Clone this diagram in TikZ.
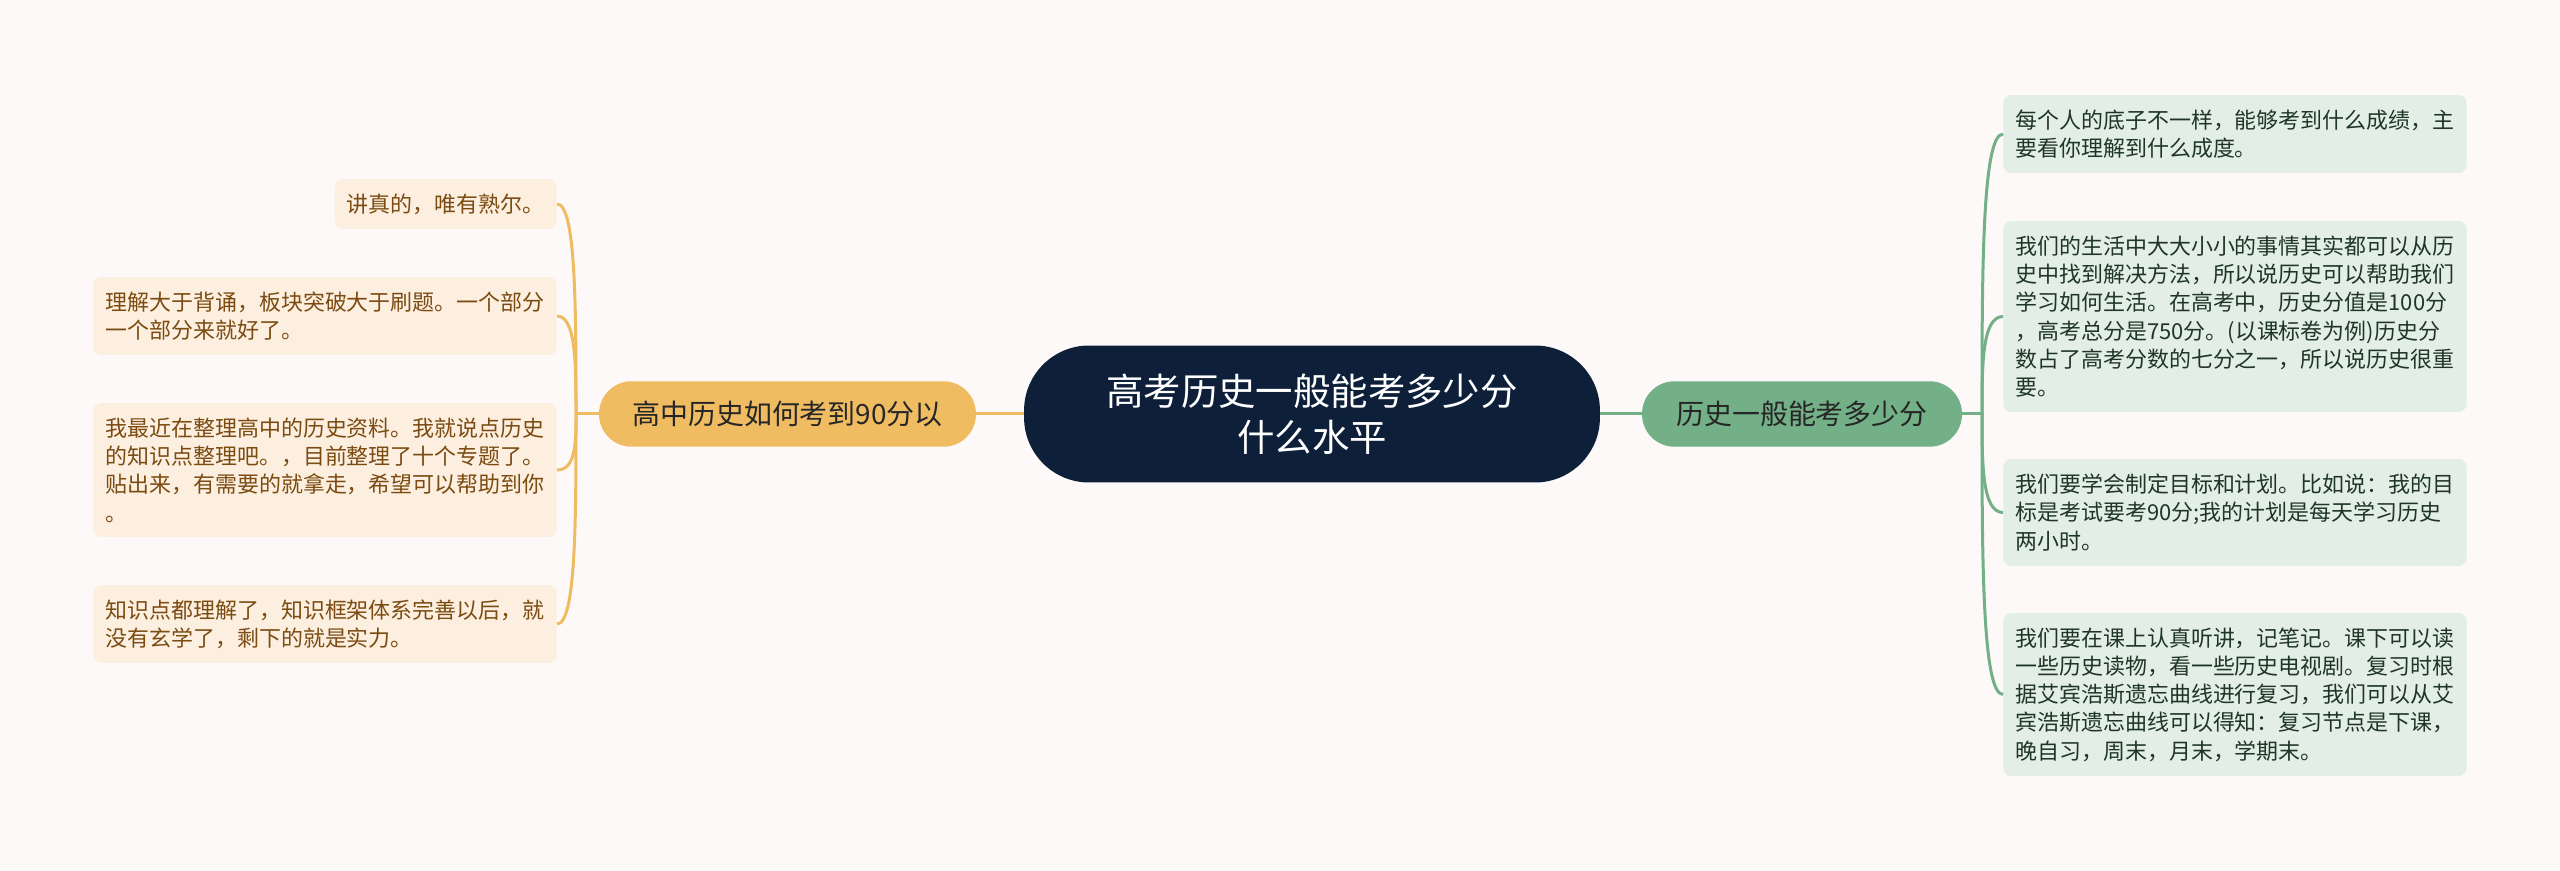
\documentclass[tikz,border=0pt]{standalone}
\usepackage{fontspec}
\setmainfont{Noto Sans CJK SC}
\usetikzlibrary{calc}

\definecolor{pagebg}{HTML}{FCF9F8}
\definecolor{rootfill}{HTML}{0E1F3A}
\definecolor{goldfill}{HTML}{F0BC62}
\definecolor{goldleaf}{HTML}{FCEFDF}
\definecolor{goldtext}{HTML}{7B4B12}
\definecolor{sagefill}{HTML}{73B087}
\definecolor{sageleaf}{HTML}{E3EEE6}
\definecolor{sagetext}{HTML}{1F3627}

\begin{document}
\begin{tikzpicture}[x=0.02cm, y=-0.02cm,
  rootnode/.style={fill=rootfill, text=white, rounded corners=1.3cm, align=center,
    minimum width=11.52cm, minimum height=2.74cm, font=\fontsize{21.3}{26}\selectfont},
  branch/.style={rounded corners=0.65cm, minimum height=1.31cm, text=black!85,
    font=\fontsize{15.9}{19}\selectfont},
  leaf/.style={rounded corners=0.16cm, align=left, inner xsep=0.24cm, inner ysep=0.1cm,
    font=\fontsize{12.5}{16.1}\selectfont},
  leafL/.style={leaf, fill=goldleaf, text=goldtext, anchor=east},
  leafR/.style={leaf, fill=sageleaf, text=sagetext, anchor=west},
  linkL/.style={draw=goldfill, line width=0.06cm},
  linkR/.style={draw=sagefill, line width=0.06cm}]
  % page
  \fill[pagebg] (0,0) rectangle (2560,871);

  % centre and the two branches
  \node[rootnode] (root) at (1312,414) {高考历史一般能考多少分\\什么水平};
  \node[branch, fill=goldfill, minimum width=7.54cm] (howto) at (787.5,414) {高中历史如何考到90分以};
  \node[branch, fill=sagefill, minimum width=6.4cm] (score) at (1802,414) {历史一般能考多少分};

  % left leaves
  \node[leafL, minimum height=1.0cm] (l1) at (557,204) {讲真的，唯有熟尔。};
  \node[leafL, minimum height=1.56cm] (l2) at (557,316) {理解大于背诵，板块突破大于刷题。一个部分\\一个部分来就好了。};
  \node[leafL, minimum height=2.68cm] (l3) at (557,470) {我最近在整理高中的历史资料。我就说点历史\\的知识点整理吧。，目前整理了十个专题了。\\贴出来，有需要的就拿走，希望可以帮助到你\\。};
  \node[leafL, minimum height=1.56cm] (l4) at (557,624) {知识点都理解了，知识框架体系完善以后，就\\没有玄学了，剩下的就是实力。};

  % right leaves
  \node[leafR, minimum height=1.56cm] (r1) at (2003,134) {每个人的底子不一样，能够考到什么成绩，主\\要看你理解到什么成度。};
  \node[leafR, minimum height=3.82cm] (r2) at (2003,316.5) {我们的生活中大大小小的事情其实都可以从历\\史中找到解决方法，所以说历史可以帮助我们\\学习如何生活。在高考中，历史分值是100分\\，高考总分是750分。(以课标卷为例)历史分\\数占了高考分数的七分之一，所以说历史很重\\要。};
  \node[leafR, minimum height=2.14cm] (r3) at (2003,512.5) {我们要学会制定目标和计划。比如说：我的目\\标是考试要考90分;我的计划是每天学习历史\\两小时。};
  \node[leafR, minimum height=3.26cm] (r4) at (2003,694.5) {我们要在课上认真听讲，记笔记。课下可以读\\一些历史读物，看一些历史电视剧。复习时根\\据艾宾浩斯遗忘曲线进行复习，我们可以从艾\\宾浩斯遗忘曲线可以得知：复习节点是下课，\\晚自习，周末，月末，学期末。};

  % connectors
  \coordinate (jl) at (576,414);
  \coordinate (jr) at (1982,414);
  \draw[linkL] (howto.east) -- (root.west);
  \draw[linkR] (score.west) -- (root.east);
  \draw[linkL] (howto.west) -- (jl);
  \draw[linkR] (score.east) -- (jr);
  \foreach \leaf in {l1,l2,l3,l4}
    \draw[linkL] (jl) .. controls ($(jl)!0.5!(jl|-\leaf.east)$) and (jl|-\leaf.east) .. (\leaf.east);
  \foreach \leaf in {r1,r2,r3,r4}
    \draw[linkR] (jr) .. controls ($(jr)!0.5!(jr|-\leaf.west)$) and (jr|-\leaf.west) .. (\leaf.west);
\end{tikzpicture}
\end{document}
